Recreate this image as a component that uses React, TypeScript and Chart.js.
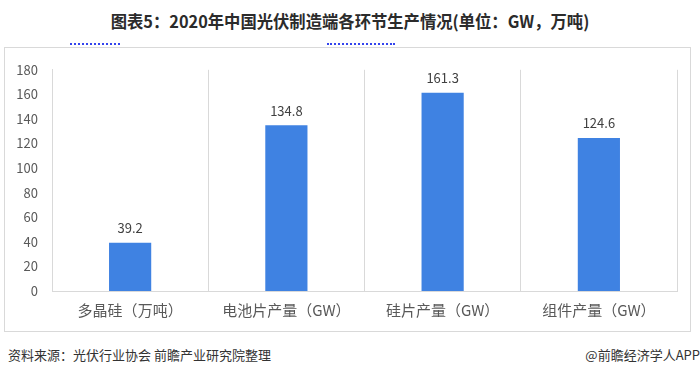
import React, { useEffect, useRef } from "react";
import { Chart, registerables } from "chart.js";

Chart.register(...registerables);

const categories = ["多晶硅（万吨）", "电池片产量（GW）", "硅片产量（GW）", "组件产量（GW）"];
const values = [39.2, 134.8, 161.3, 124.6];
const yMax = 180;
const yStep = 20;
const titleText = "图表5：2020年中国光伏制造端各环节生产情况(单位：GW，万吨)";
const sourceText = "资料来源：光伏行业协会 前瞻产业研究院整理";
const brandText = "@前瞻经济学人APP";

const FONT = "'Noto Sans CJK SC', 'Noto Sans', sans-serif";

const labelPlugin = {
  id: "valueLabels",
  afterDatasetsDraw(chart: any) {
    const ctx = chart.ctx;
    const meta = chart.getDatasetMeta(0);
    ctx.save();
    ctx.fillStyle = "#404040";
    ctx.font = `13px ${FONT}`;
    ctx.textAlign = "center";
    ctx.textBaseline = "bottom";
    meta.data.forEach((bar: any, i: number) => {
      const v = chart.data.datasets[0].data[i];
      ctx.fillText(v.toFixed(1), bar.x, bar.y - 8);
    });
    ctx.restore();
  },
};

export default function App() {
  const ref = useRef<HTMLCanvasElement>(null);
  useEffect(() => {
    if (!ref.current) return;
    const chart = new Chart(ref.current, {
      type: "bar",
      data: {
        labels: categories,
        datasets: [
          {
            data: values,
            backgroundColor: "#3f82e2",
            barPercentage: 0.27,
            categoryPercentage: 1,
          },
        ],
      },
      options: {
        animation: false,
        responsive: false,
        maintainAspectRatio: false,
        events: [],
        layout: { padding: { top: 17, right: 15, left: 0, bottom: 0 } },
        plugins: { legend: { display: false }, tooltip: { enabled: false } },
        scales: {
          x: {
            offset: true,
            grid: { display: true, offset: true, color: "#d9d9d9", drawTicks: false, lineWidth: 1 },
            border: { display: true, color: "#d9d9d9" },
            ticks: { color: "#595959", font: { size: 15, family: FONT }, padding: 10 },
            afterFit: (s: any) => { s.height = 42; },
          },
          y: {
            min: 0,
            max: yMax,
            ticks: { stepSize: yStep, color: "#595959", font: { size: 13, family: FONT }, padding: 14 },
            grid: { display: false, drawTicks: false },
            border: { display: true, color: "#d9d9d9" },
            afterFit: (s: any) => { s.width = 48; },
          },
        },
      },
      plugins: [labelPlugin],
    });
    return () => chart.destroy();
  }, []);

  return (
    <div style={{ position: "fixed", left: 0, top: 0, width: 700, height: 377, background: "#fff", fontFamily: FONT, overflow: "hidden" }}>
      <div style={{ position: "absolute", left: 0, top: 8, width: 700, textAlign: "center", fontSize: 17, fontWeight: "bold", color: "#2b2b2b", whiteSpace: "nowrap", transform: "scaleX(0.96)" }}>
        {titleText}
      </div>
      <div style={{ position: "absolute", left: 70, top: 40, width: 50, height: 3, borderBottom: "2px dotted #3344ee" }} />
      <div style={{ position: "absolute", left: 327, top: 40, width: 68, height: 3, borderBottom: "2px dotted #3344ee" }} />
      <div style={{ position: "absolute", left: 4, top: 47, width: 687, height: 285, border: "1px solid #d9d9d9", boxSizing: "border-box" }} />
      <canvas ref={ref} width={688} height={285} style={{ position: "absolute", left: 4, top: 48, width: 688, height: 285 }} />
      <div style={{ position: "absolute", left: 8, top: 345, fontSize: 13, color: "#333", whiteSpace: "nowrap" }}>{sourceText}</div>
      <div style={{ position: "absolute", right: 0, top: 345, fontSize: 13, color: "#333", whiteSpace: "nowrap" }}>{brandText}</div>
    </div>
  );
}
